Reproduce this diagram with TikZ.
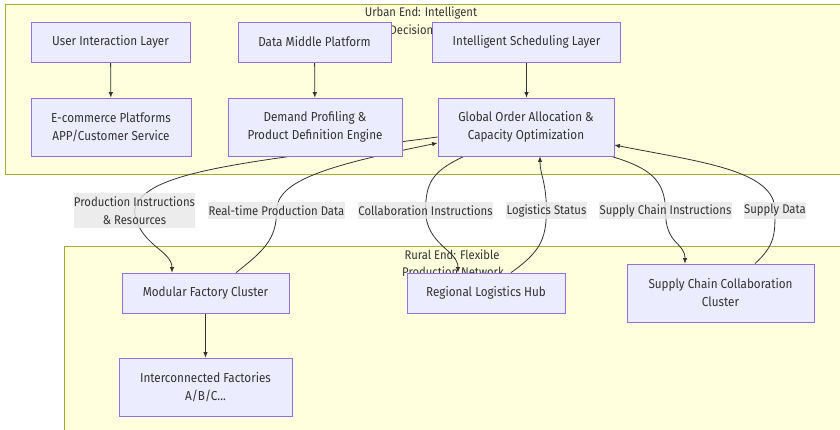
\documentclass[tikz,border=0pt]{standalone}
\usepackage{fontspec}
\setmainfont[FakeStretch=0.9]{Fira Sans}
\usetikzlibrary{arrows.meta}
\definecolor{clfill}{HTML}{FFFFDE}
\definecolor{cldraw}{HTML}{AAAA33}
\definecolor{ndfill}{HTML}{ECECFF}
\definecolor{nddraw}{HTML}{9370DB}
\definecolor{txt}{HTML}{333333}
\definecolor{lbfill}{HTML}{E8E8E8}
\pgfdeclarelayer{bg}
\pgfdeclarelayer{edges}
\pgfsetlayers{bg,edges,main}
\tikzset{
  cluster/.style={fill=clfill,draw=cldraw,line width=0.8pt},
  ctitle/.style={text=txt,font=\fontsize{12.5}{17}\selectfont,align=center,inner sep=0pt},
  box/.style={fill=ndfill,draw=nddraw,line width=0.8pt,text=txt,align=center,
    font=\fontsize{13}{18}\selectfont,inner sep=0pt},
  elabel/.style={fill=lbfill,fill opacity=0.8,text opacity=1,text=txt,align=center,
    font=\fontsize{12.6}{18}\selectfont,inner sep=0.3pt},
  conn/.style={draw=txt,line width=0.8pt},
  arr/.style={conn,-{Latex[length=5.5pt,width=4.5pt]}}
}
\begin{document}
\begin{tikzpicture}[x=1pt,y=-1pt]
\useasboundingbox (0,0) rectangle (840,429);
\begin{pgfonlayer}{bg}
\fill[white] (0,0) rectangle (840,429);
\draw[cluster] (5,4) rectangle (846,174);
\draw[cluster] (64,246) rectangle (846,435);
\node[ctitle] (t1) at (421,13) {Urban End: Intelligent};
\node[ctitle] (t1b) at (411.5,30) {Decision};
\node[ctitle] (t2) at (452,255) {Rural End: Flexible};
\node[ctitle] (t2b) at (453,272) {Production Network};
\end{pgfonlayer}
% labels
\node[elabel,minimum width=119pt,minimum height=35pt] (l1) at (134.5,210.5) {Production Instructions\\\& Resources};
\node[elabel,minimum width=135pt,minimum height=17pt] (l2) at (276.5,210.5) {Real-time Production Data};
\node[elabel,minimum width=133pt,minimum height=17pt] (l3) at (425.5,210.5) {Collaboration Instructions};
\node[elabel,minimum width=79pt,minimum height=17pt] (l4) at (546.5,210.5) {Logistics Status};
\node[elabel,minimum width=131pt,minimum height=17pt] (l5) at (665.5,210.5) {Supply Chain Instructions};
\node[elabel,minimum width=62pt,minimum height=17pt] (l6) at (775,210.5) {Supply Data};
% nodes
\path
  (110.5,42) node[box,minimum width=159pt,minimum height=40pt] (ui) {User Interaction Layer}
  (111,127) node[box,minimum width=160pt,minimum height=58pt] (ec) {E-commerce Platforms\\APP/Customer Service}
  (314.5,42) node[box,minimum width=153pt,minimum height=40pt] (dm) {Data Middle Platform}
  (315,127) node[box,minimum width=174pt,minimum height=58pt] (dp) {Demand Profiling \&\\Product Definition Engine}
  (526.5,42) node[box,minimum width=188pt,minimum height=40pt] (is) {Intelligent Scheduling Layer}
  (526,127) node[box,minimum width=176pt,minimum height=58pt] (go) {Global Order Allocation \&\\Capacity Optimization}
  (205.5,293) node[box,minimum width=167pt,minimum height=40pt] (mf) {Modular Factory Cluster}
  (205.5,387) node[box,minimum width=173pt,minimum height=58pt] (ic) {Interconnected Factories\\A/B/C...}
  (486,293) node[box,minimum width=158pt,minimum height=40pt] (rl) {Regional Logistics Hub}
  (720.5,293) node[box,minimum width=187pt,minimum height=58pt] (sc) {Supply Chain Collaboration\\Cluster};
\begin{pgfonlayer}{edges}
\draw[arr] (ui) -- (ec);
\draw[arr] (dm) -- (dp);
\draw[arr] (is.south) -- (is.south |- go.north);
\draw[arr] (mf) -- (ic);
% Global -> Modular
\draw[arr] ([yshift=-10pt]go.west) .. controls (250,162) and (142,170) .. (l1.center)
  .. controls (138,245) and (172,250) .. ([xshift=-33.5pt]mf.north);
% Modular -> Global
\draw[arr] ([xshift=30.5pt]mf.north) .. controls (262,252) and (277,240) .. (l2.center)
  .. controls (277,180) and (330,165) .. ([yshift=-16pt]go.west);
% Global -> Regional
\draw[arr] ([xshift=-62pt]go.south) .. controls (430,172) and (426,185) .. (l3.center)
  .. controls (426,245) and (458,250) .. ([xshift=-28pt]rl.north);
% Regional -> Global
\draw[arr] ([xshift=25pt]rl.north) .. controls (540,252) and (546,240) .. (l4.center)
  .. controls (546,180) and (540,175) .. ([xshift=14pt]go.south);
% Global -> Supply chain
\draw[arr] ([xshift=-3pt]go.south east) .. controls (650,168) and (665,180) .. (l5.center)
  .. controls (665,245) and (685,242) .. ([xshift=-35.5pt]sc.north);
% Supply chain -> Global
\draw[arr] ([xshift=34.5pt]sc.north) .. controls (775,245) and (775,235) .. (l6.center)
  .. controls (775,170) and (700,162) .. ([yshift=-18pt]go.east);
\end{pgfonlayer}
\end{tikzpicture}
\end{document}
